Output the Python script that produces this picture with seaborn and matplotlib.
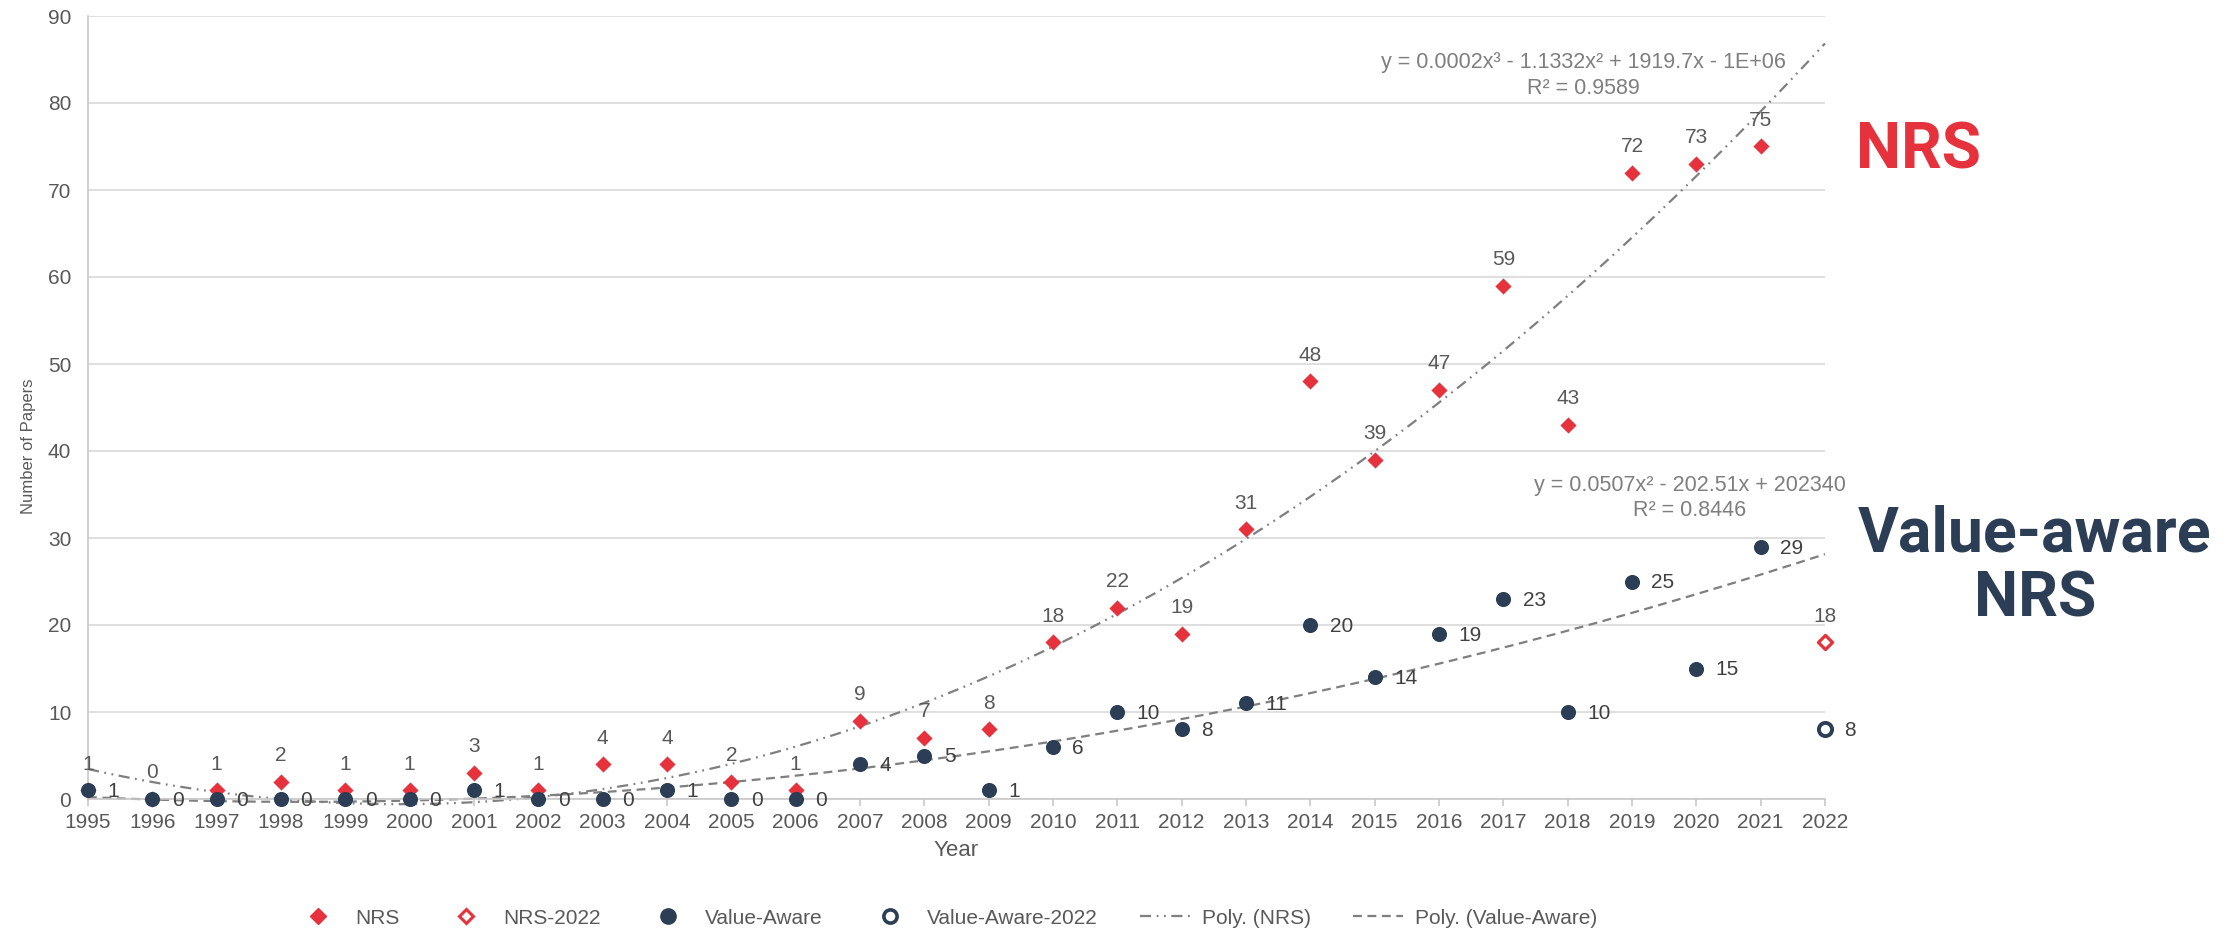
import numpy as np
import matplotlib
matplotlib.use("Agg")
import matplotlib.pyplot as plt
import seaborn as sns
from matplotlib.lines import Line2D

# ---- data ----
years = list(range(1995, 2022))
nrs = [1, 0, 1, 2, 1, 1, 3, 1, 4, 4, 2, 1, 9, 7, 8, 18, 22, 19, 31, 48, 39, 47, 59, 43, 72, 73, 75]
value_aware = [1, 0, 0, 0, 0, 0, 1, 0, 0, 1, 0, 0, 4, 5, 1, 6, 10, 8, 11, 20, 14, 19, 23, 10, 25, 15, 29]
year_2022 = [2022]
nrs_2022 = [18]
value_aware_2022 = [8]

eq_nrs = ["y = 0.0002x³ - 1.1332x² + 1919.7x - 1E+06", "R² = 0.9589"]
eq_va = ["y = 0.0507x² - 202.51x + 202340", "R² = 0.8446"]

RED = "#E5323D"
NAVY = "#2C3E55"
GREY_TXT = "#595959"
LABEL_TXT = "#404040"
TREND = "#7F7F7F"

sns.set_theme(style="whitegrid")
plt.rcParams["font.family"] = ["Liberation Sans", "DejaVu Sans"]

fig = plt.figure(figsize=(22.38, 9.30), dpi=100)
ax = fig.add_axes([88 / 2238, 1 - 799 / 930, (1825 - 88) / 2238, (799 - 16) / 930])

NRS_DASH = (0, (5, 2.5, 0.8, 2.5, 0.8, 2.5))
VA_DASH = (0, (4, 2.5))

# trend lines (polynomial fits of the observed series, extended to 2022)
xs = np.linspace(1995, 2022, 300)
yrs = np.array(years, dtype=float)
p3 = np.polyfit(yrs - 1995, nrs, 3)
p2 = np.polyfit(yrs - 1995, value_aware, 2)
ax.plot(xs, np.polyval(p3, xs - 1995), color=TREND, lw=1.6, ls=NRS_DASH,
        zorder=2, clip_on=False)
ax.plot(xs, np.polyval(p2, xs - 1995), color=TREND, lw=1.6, ls=VA_DASH,
        zorder=2, clip_on=False)

# scatter series
sns.scatterplot(x=years, y=nrs, marker="D", s=68, color=RED, edgecolor=RED,
                linewidth=0, ax=ax, zorder=3, clip_on=False)
sns.scatterplot(x=year_2022, y=nrs_2022, marker="D", s=52, facecolor="white",
                edgecolor=RED, linewidth=2.3, ax=ax, zorder=3, clip_on=False)
sns.scatterplot(x=years, y=value_aware, marker="o", s=118, color=NAVY, edgecolor=NAVY,
                linewidth=0, ax=ax, zorder=4, clip_on=False)
sns.scatterplot(x=year_2022, y=value_aware_2022, marker="o", s=90, facecolor="white",
                edgecolor=NAVY, linewidth=2.8, ax=ax, zorder=4, clip_on=False)

# data labels
for x, v in zip(years + year_2022, nrs + nrs_2022):
    ax.annotate(str(v), (x, v), xytext=(0, 12), textcoords="offset points",
                ha="center", va="bottom", fontsize=15, color=GREY_TXT, zorder=5,
                annotation_clip=False)
for x, v in zip(years + year_2022, value_aware + value_aware_2022):
    ax.annotate(str(v), (x, v), xytext=(14, -1), textcoords="offset points",
                ha="left", va="center", fontsize=15, color=LABEL_TXT, zorder=5,
                annotation_clip=False)

# trend equations
ax.text(2018.24, 84.6, eq_nrs[0], ha="center", va="center", fontsize=15.5, color=TREND)
ax.text(2018.24, 81.7, eq_nrs[1], ha="center", va="center", fontsize=15.5, color=TREND)
ax.text(2019.9, 36.0, eq_va[0], ha="center", va="center", fontsize=15.5, color=TREND)
ax.text(2019.9, 33.2, eq_va[1], ha="center", va="center", fontsize=15.5, color=TREND)

# axes styling
ax.set_xlim(1995, 2022)
ax.set_ylim(0, 90)
ax.set_xticks(range(1995, 2023))
ax.set_yticks(range(0, 91, 10))
ax.grid(axis="y", color="#D9D9D9", lw=1.2)
ax.grid(axis="x", visible=False)
ax.set_facecolor("white")
for side in ["top", "right"]:
    ax.spines[side].set_visible(False)
for side in ["left", "bottom"]:
    ax.spines[side].set_visible(True)
    ax.spines[side].set_color("#C8C8C8")
    ax.spines[side].set_linewidth(1.2)
ax.tick_params(axis="x", bottom=True, length=5, width=1.2, color="#C8C8C8",
               labelsize=15, labelcolor=GREY_TXT, pad=5)
ax.tick_params(axis="y", left=False, labelsize=15, labelcolor=GREY_TXT, pad=6)
ax.set_xlabel("Year", fontsize=16, color=GREY_TXT, labelpad=6)
ax.set_ylabel("Number of Papers", fontsize=12, color=GREY_TXT)
ax.yaxis.set_label_coords(-0.030, 0.45)

# legend
handles = [
    Line2D([], [], ls="none", marker="D", ms=8, color=RED, mec=RED),
    Line2D([], [], ls="none", marker="D", ms=7, mfc="white", mec=RED, mew=2.2),
    Line2D([], [], ls="none", marker="o", ms=11, color=NAVY, mec=NAVY),
    Line2D([], [], ls="none", marker="o", ms=9.5, mfc="white", mec=NAVY, mew=2.6),
    Line2D([], [], color=TREND, lw=1.6, ls=NRS_DASH),
    Line2D([], [], color=TREND, lw=1.6, ls=VA_DASH),
]
labels = ["NRS", "NRS-2022", "Value-Aware", "Value-Aware-2022", "Poly. (NRS)", "Poly. (Value-Aware)"]
leg = fig.legend(handles, labels, loc="center", bbox_to_anchor=(945 / 2238, 1 - 918 / 930),
                 ncol=6, frameon=False, fontsize=15, columnspacing=2.0,
                 handlelength=2.4, handletextpad=0.6)
for t in leg.get_texts():
    t.set_color(GREY_TXT)

# side titles
fig.text(1918 / 2238, 1 - 151 / 930, "NRS", ha="center", va="center",
         fontsize=46, fontweight="bold", color=RED, family=["Roboto", "DejaVu Sans"])
fig.text(2035 / 2238, 1 - 567 / 930, "Value-aware\nNRS", ha="center", va="center",
         fontsize=45, fontweight="bold", color=NAVY, linespacing=1.1,
         family=["Roboto", "DejaVu Sans"])

fig.savefig("out.png", dpi=100, facecolor="white")
